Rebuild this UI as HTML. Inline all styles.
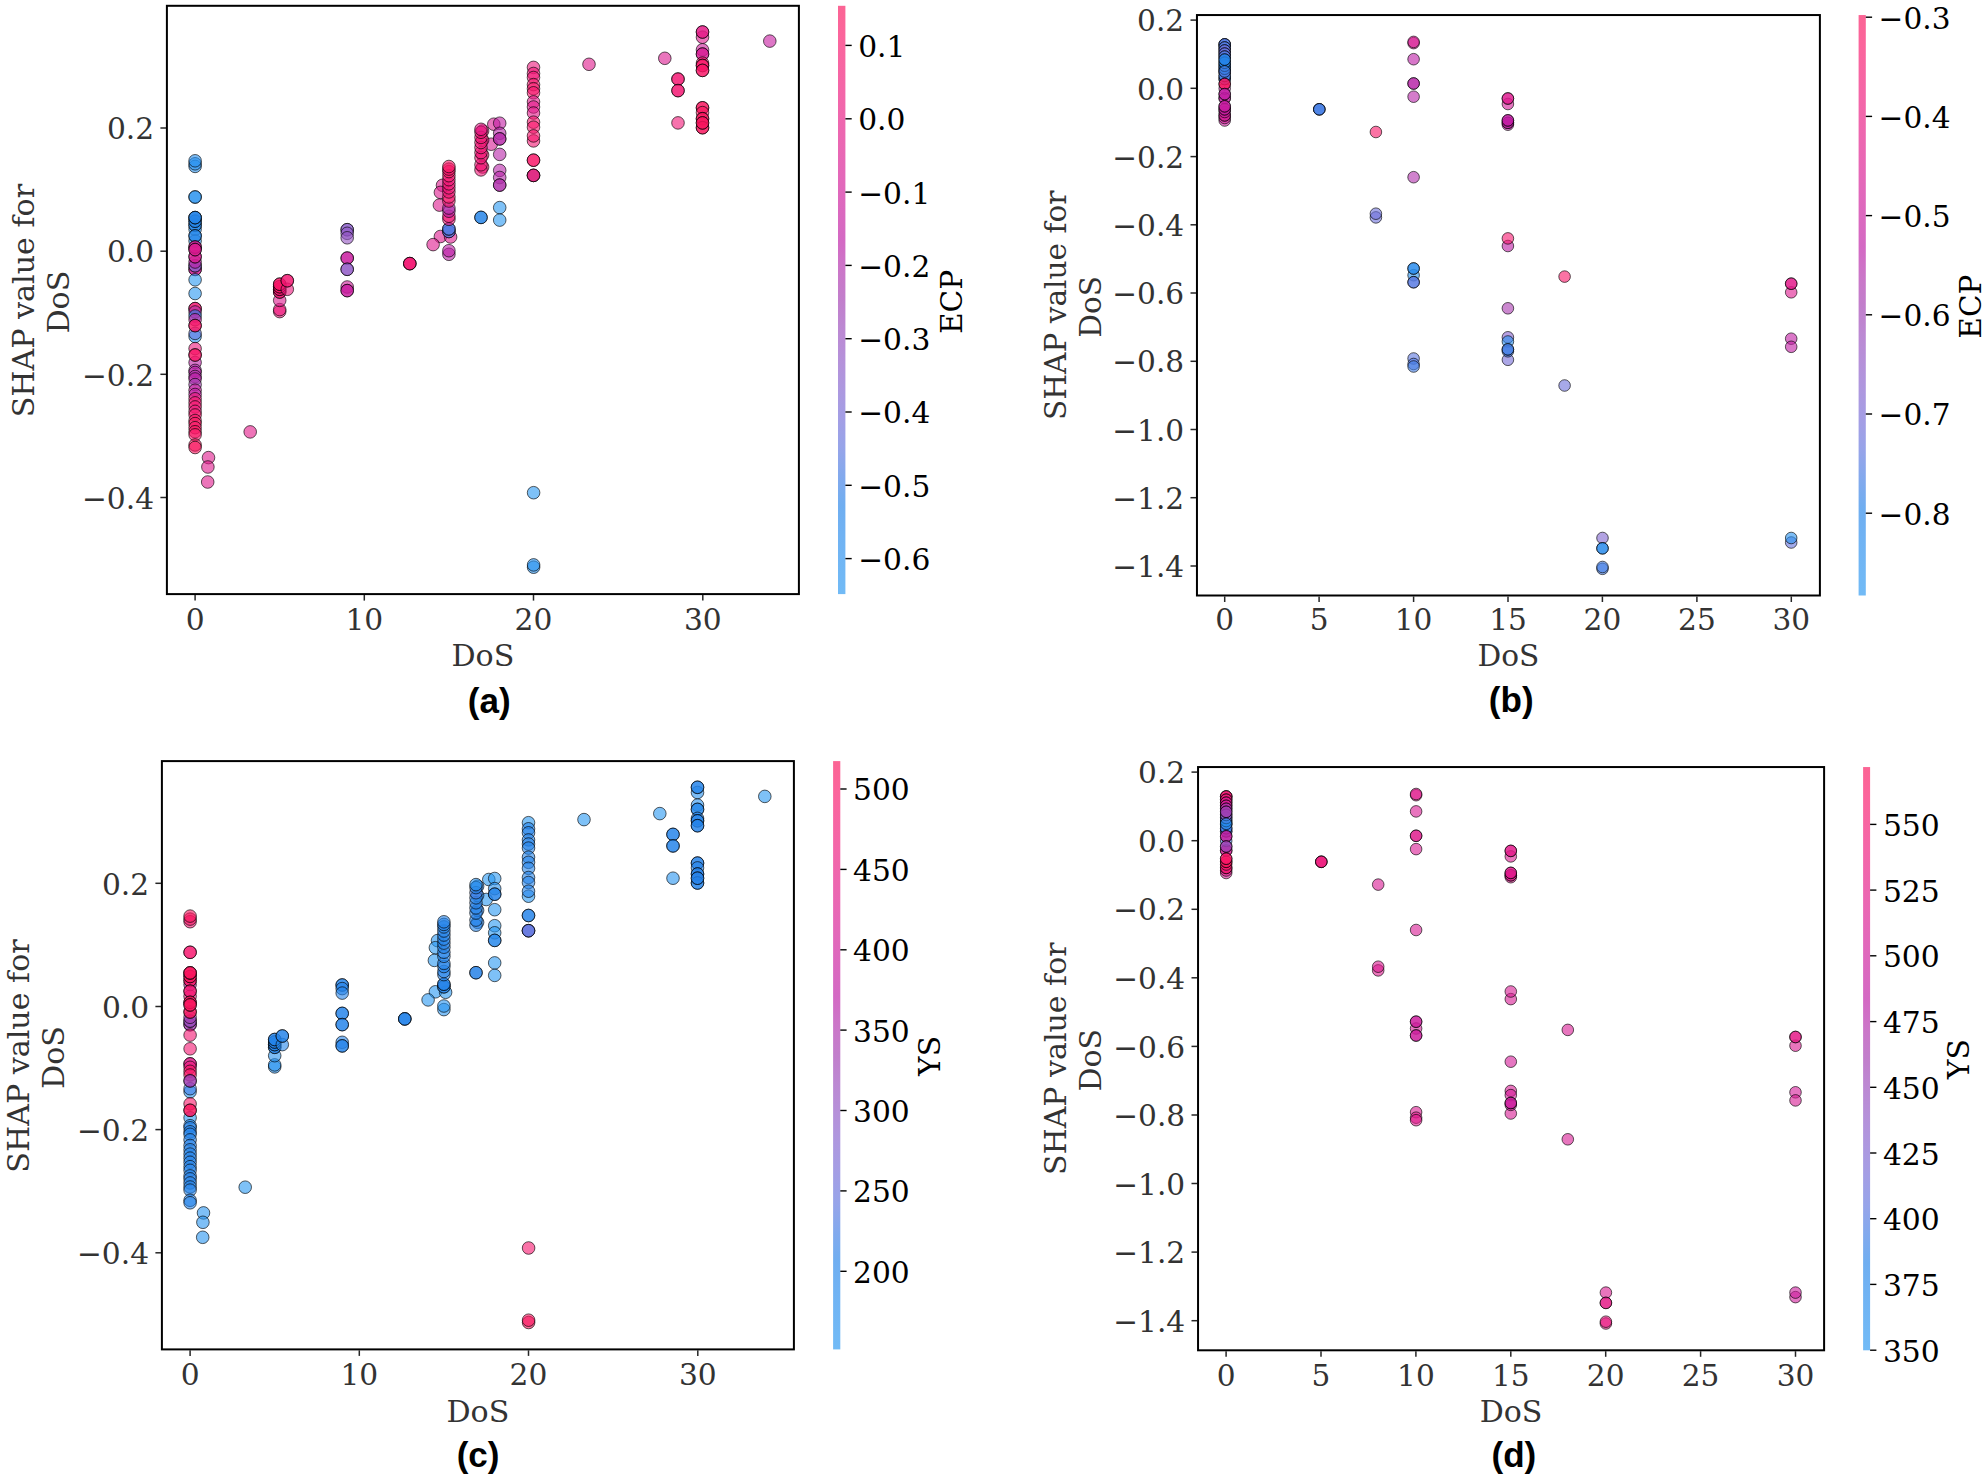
<!DOCTYPE html>
<html lang="en"><head><meta charset="utf-8"><title>SHAP dependence plots for DoS</title>
<style>html,body{margin:0;padding:0;background:#fff}svg{display:block}</style></head><body>
<svg width="1988" height="1479" viewBox="0 0 1988 1479">
<rect width="1988" height="1479" fill="#fff"/>
<defs><linearGradient id="cbgrad" x1="0" y1="0" x2="0" y2="1"><stop offset="0%" stop-color="#f9145d"/><stop offset="5%" stop-color="#f91568"/><stop offset="10%" stop-color="#f31672"/><stop offset="15%" stop-color="#ed177c"/><stop offset="20%" stop-color="#e51885"/><stop offset="25%" stop-color="#dd198e"/><stop offset="30%" stop-color="#d31a97"/><stop offset="35%" stop-color="#c81b9e"/><stop offset="40%" stop-color="#bd1ca5"/><stop offset="45%" stop-color="#b030ac"/><stop offset="50%" stop-color="#a23cb1"/><stop offset="55%" stop-color="#994cbc"/><stop offset="60%" stop-color="#8f58c6"/><stop offset="65%" stop-color="#8363cf"/><stop offset="70%" stop-color="#746cd7"/><stop offset="75%" stop-color="#6175de"/><stop offset="80%" stop-color="#427de4"/><stop offset="85%" stop-color="#2584e9"/><stop offset="90%" stop-color="#268bed"/><stop offset="95%" stop-color="#2791ef"/><stop offset="100%" stop-color="#2897f1"/></linearGradient></defs>
<g opacity="1">
<g id="panel-a">
<clipPath id="clip-a"><rect x="166.9" y="5.8" width="632.00" height="588.30"/></clipPath>
<g clip-path="url(#clip-a)" stroke="#000" stroke-opacity="0.7" stroke-width="0.9" fill-opacity="0.6">
<circle cx="195.1" cy="166.4" r="6.3" fill="#2793f0"/>
<circle cx="195.1" cy="163.8" r="6.3" fill="#2790ef"/>
<circle cx="195.1" cy="160.8" r="6.3" fill="#2790ef"/>
<circle cx="195.1" cy="197.0" r="6.3" fill="#2791ef"/>
<circle cx="195.1" cy="197.0" r="6.3" fill="#2791ef"/>
<circle cx="195.1" cy="229.3" r="6.3" fill="#2897f1"/>
<circle cx="195.1" cy="225.2" r="6.3" fill="#2585ea"/>
<circle cx="195.1" cy="225.2" r="6.3" fill="#2585ea"/>
<circle cx="195.1" cy="221.2" r="6.3" fill="#2585ea"/>
<circle cx="195.1" cy="221.2" r="6.3" fill="#2585ea"/>
<circle cx="195.1" cy="217.6" r="6.3" fill="#2583e8"/>
<circle cx="195.1" cy="217.6" r="6.3" fill="#2583e8"/>
<circle cx="195.1" cy="217.6" r="6.3" fill="#2583e8"/>
<circle cx="195.1" cy="241.0" r="6.3" fill="#2791ef"/>
<circle cx="195.1" cy="235.9" r="6.3" fill="#2585ea"/>
<circle cx="195.1" cy="235.9" r="6.3" fill="#2585ea"/>
<circle cx="195.1" cy="269.4" r="6.3" fill="#d31a97"/>
<circle cx="195.1" cy="269.4" r="6.3" fill="#d31a97"/>
<circle cx="195.1" cy="265.8" r="6.3" fill="#8b5dca"/>
<circle cx="195.1" cy="265.8" r="6.3" fill="#8b5dca"/>
<circle cx="195.1" cy="262.0" r="6.3" fill="#bd1ca5"/>
<circle cx="195.1" cy="256.7" r="6.3" fill="#d71a93"/>
<circle cx="195.1" cy="256.7" r="6.3" fill="#d71a93"/>
<circle cx="195.1" cy="247.0" r="6.3" fill="#d71a93"/>
<circle cx="195.1" cy="247.0" r="6.3" fill="#d71a93"/>
<circle cx="195.1" cy="249.6" r="6.3" fill="#db1990"/>
<circle cx="195.1" cy="249.6" r="6.3" fill="#db1990"/>
<circle cx="195.1" cy="279.8" r="6.3" fill="#2897f1"/>
<circle cx="195.1" cy="293.5" r="6.3" fill="#2897f1"/>
<circle cx="195.1" cy="308.6" r="6.3" fill="#f31672"/>
<circle cx="195.1" cy="308.6" r="6.3" fill="#f31672"/>
<circle cx="195.1" cy="312.0" r="6.3" fill="#b030ac"/>
<circle cx="195.1" cy="316.0" r="6.3" fill="#2584e9"/>
<circle cx="195.1" cy="319.7" r="6.3" fill="#c81b9e"/>
<circle cx="195.1" cy="336.5" r="6.3" fill="#2897f1"/>
<circle cx="195.1" cy="333.4" r="6.3" fill="#6175de"/>
<circle cx="195.1" cy="325.6" r="6.3" fill="#f91568"/>
<circle cx="195.1" cy="325.6" r="6.3" fill="#f91568"/>
<circle cx="195.1" cy="348.6" r="6.3" fill="#ed177c"/>
<circle cx="195.1" cy="362.5" r="6.3" fill="#bd1ca5"/>
<circle cx="195.1" cy="355.0" r="6.3" fill="#f91568"/>
<circle cx="195.1" cy="355.0" r="6.3" fill="#f91568"/>
<circle cx="195.1" cy="370.4" r="6.3" fill="#b030ac"/>
<circle cx="195.1" cy="372.5" r="6.3" fill="#bd1ca5"/>
<circle cx="195.1" cy="376.5" r="6.3" fill="#b030ac"/>
<circle cx="195.1" cy="379.0" r="6.3" fill="#bd1ca5"/>
<circle cx="195.1" cy="384.6" r="6.3" fill="#a23cb1"/>
<circle cx="195.1" cy="390.2" r="6.3" fill="#cb1b9d"/>
<circle cx="195.1" cy="394.5" r="6.3" fill="#bd1ca5"/>
<circle cx="195.1" cy="398.8" r="6.3" fill="#ed177c"/>
<circle cx="195.1" cy="402.9" r="6.3" fill="#f31672"/>
<circle cx="195.1" cy="407.0" r="6.3" fill="#f31672"/>
<circle cx="195.1" cy="411.4" r="6.3" fill="#ed177c"/>
<circle cx="195.1" cy="415.0" r="6.3" fill="#f91568"/>
<circle cx="195.1" cy="420.6" r="6.3" fill="#f91568"/>
<circle cx="195.1" cy="423.6" r="6.3" fill="#f9145d"/>
<circle cx="195.1" cy="427.7" r="6.3" fill="#f91568"/>
<circle cx="195.1" cy="431.7" r="6.3" fill="#f9145d"/>
<circle cx="195.1" cy="434.8" r="6.3" fill="#f91568"/>
<circle cx="195.1" cy="445.0" r="6.3" fill="#f9145d"/>
<circle cx="195.1" cy="447.5" r="6.3" fill="#f9145d"/>
<circle cx="250.2" cy="431.9" r="6.3" fill="#e21889"/>
<circle cx="208.5" cy="457.6" r="6.3" fill="#df198c"/>
<circle cx="207.9" cy="467.0" r="6.3" fill="#df198c"/>
<circle cx="207.7" cy="482.0" r="6.3" fill="#df198c"/>
<circle cx="279.7" cy="311.6" r="6.3" fill="#ed177c"/>
<circle cx="279.7" cy="309.6" r="6.3" fill="#ed177c"/>
<circle cx="279.7" cy="300.4" r="6.3" fill="#dd198e"/>
<circle cx="279.7" cy="292.0" r="6.3" fill="#f31672"/>
<circle cx="279.7" cy="292.0" r="6.3" fill="#f31672"/>
<circle cx="279.7" cy="289.3" r="6.3" fill="#f31672"/>
<circle cx="279.7" cy="289.3" r="6.3" fill="#f31672"/>
<circle cx="279.7" cy="286.7" r="6.3" fill="#f91568"/>
<circle cx="279.7" cy="286.7" r="6.3" fill="#f91568"/>
<circle cx="279.7" cy="284.2" r="6.3" fill="#f91568"/>
<circle cx="279.7" cy="284.2" r="6.3" fill="#f91568"/>
<circle cx="287.3" cy="289.3" r="6.3" fill="#ed177c"/>
<circle cx="287.3" cy="280.7" r="6.3" fill="#f31672"/>
<circle cx="287.3" cy="280.7" r="6.3" fill="#f31672"/>
<circle cx="347.2" cy="229.7" r="6.3" fill="#8b5dca"/>
<circle cx="347.2" cy="229.7" r="6.3" fill="#8b5dca"/>
<circle cx="347.2" cy="233.3" r="6.3" fill="#8f58c6"/>
<circle cx="347.2" cy="237.8" r="6.3" fill="#9354c2"/>
<circle cx="347.2" cy="258.1" r="6.3" fill="#c81b9e"/>
<circle cx="347.2" cy="258.1" r="6.3" fill="#c81b9e"/>
<circle cx="347.2" cy="269.3" r="6.3" fill="#8f58c6"/>
<circle cx="347.2" cy="269.3" r="6.3" fill="#8f58c6"/>
<circle cx="347.2" cy="287.0" r="6.3" fill="#cf1a9a"/>
<circle cx="347.2" cy="290.6" r="6.3" fill="#c81b9e"/>
<circle cx="347.2" cy="290.6" r="6.3" fill="#c81b9e"/>
<circle cx="409.8" cy="263.6" r="6.3" fill="#f31672"/>
<circle cx="409.8" cy="263.6" r="6.3" fill="#f31672"/>
<circle cx="409.8" cy="263.6" r="6.3" fill="#f31672"/>
<circle cx="442.5" cy="185.3" r="6.3" fill="#dd198e"/>
<circle cx="440.4" cy="192.4" r="6.3" fill="#dd198e"/>
<circle cx="439.4" cy="205.1" r="6.3" fill="#dd198e"/>
<circle cx="440.4" cy="236.5" r="6.3" fill="#dd198e"/>
<circle cx="433.1" cy="244.6" r="6.3" fill="#dd198e"/>
<circle cx="450.6" cy="237.0" r="6.3" fill="#dd198e"/>
<circle cx="448.9" cy="254.3" r="6.3" fill="#bd1ca5"/>
<circle cx="448.9" cy="250.7" r="6.3" fill="#bd1ca5"/>
<circle cx="448.9" cy="231.5" r="6.3" fill="#5c76e0"/>
<circle cx="448.9" cy="231.5" r="6.3" fill="#5c76e0"/>
<circle cx="448.9" cy="228.9" r="6.3" fill="#517ae2"/>
<circle cx="448.9" cy="228.9" r="6.3" fill="#517ae2"/>
<circle cx="448.9" cy="219.3" r="6.3" fill="#f11676"/>
<circle cx="448.9" cy="216.2" r="6.3" fill="#f11676"/>
<circle cx="448.9" cy="211.2" r="6.3" fill="#bd1ca5"/>
<circle cx="448.9" cy="208.1" r="6.3" fill="#b030ac"/>
<circle cx="448.9" cy="201.0" r="6.3" fill="#f6166e"/>
<circle cx="448.9" cy="197.0" r="6.3" fill="#f6166e"/>
<circle cx="448.9" cy="191.9" r="6.3" fill="#f11676"/>
<circle cx="448.9" cy="187.8" r="6.3" fill="#f11676"/>
<circle cx="448.9" cy="183.8" r="6.3" fill="#f11676"/>
<circle cx="448.9" cy="179.7" r="6.3" fill="#f11676"/>
<circle cx="448.9" cy="175.7" r="6.3" fill="#f6166e"/>
<circle cx="448.9" cy="171.6" r="6.3" fill="#f91563"/>
<circle cx="448.9" cy="169.1" r="6.3" fill="#f6166e"/>
<circle cx="448.9" cy="166.5" r="6.3" fill="#f91563"/>
<circle cx="491.2" cy="144.2" r="6.3" fill="#d71a93"/>
<circle cx="493.8" cy="124.2" r="6.3" fill="#d71a93"/>
<circle cx="482.6" cy="167.0" r="6.3" fill="#f31672"/>
<circle cx="482.6" cy="155.0" r="6.3" fill="#f31672"/>
<circle cx="482.6" cy="140.0" r="6.3" fill="#f31672"/>
<circle cx="482.6" cy="131.0" r="6.3" fill="#ed177c"/>
<circle cx="481.0" cy="169.9" r="6.3" fill="#f11676"/>
<circle cx="481.0" cy="164.8" r="6.3" fill="#f11676"/>
<circle cx="481.0" cy="157.7" r="6.3" fill="#f11676"/>
<circle cx="481.0" cy="152.6" r="6.3" fill="#f11676"/>
<circle cx="481.0" cy="147.5" r="6.3" fill="#f11676"/>
<circle cx="481.0" cy="142.5" r="6.3" fill="#f11676"/>
<circle cx="481.0" cy="137.4" r="6.3" fill="#f11676"/>
<circle cx="481.0" cy="132.3" r="6.3" fill="#f11676"/>
<circle cx="481.0" cy="129.3" r="6.3" fill="#e51885"/>
<circle cx="481.0" cy="217.4" r="6.3" fill="#2583e8"/>
<circle cx="481.0" cy="217.4" r="6.3" fill="#2583e8"/>
<circle cx="499.7" cy="123.2" r="6.3" fill="#c21ca3"/>
<circle cx="499.7" cy="133.3" r="6.3" fill="#b824a8"/>
<circle cx="499.7" cy="138.9" r="6.3" fill="#b529a9"/>
<circle cx="499.7" cy="138.9" r="6.3" fill="#b529a9"/>
<circle cx="499.7" cy="154.4" r="6.3" fill="#b824a8"/>
<circle cx="499.7" cy="170.4" r="6.3" fill="#b824a8"/>
<circle cx="499.7" cy="177.5" r="6.3" fill="#b824a8"/>
<circle cx="499.7" cy="185.1" r="6.3" fill="#b030ac"/>
<circle cx="499.7" cy="185.1" r="6.3" fill="#b030ac"/>
<circle cx="499.7" cy="207.6" r="6.3" fill="#2897f1"/>
<circle cx="499.7" cy="220.1" r="6.3" fill="#2897f1"/>
<circle cx="533.5" cy="67.4" r="6.3" fill="#ed177c"/>
<circle cx="533.5" cy="73.5" r="6.3" fill="#f11676"/>
<circle cx="533.5" cy="77.5" r="6.3" fill="#f11676"/>
<circle cx="533.5" cy="84.6" r="6.3" fill="#f7156c"/>
<circle cx="533.5" cy="88.7" r="6.3" fill="#f7156c"/>
<circle cx="533.5" cy="92.8" r="6.3" fill="#f7156c"/>
<circle cx="533.5" cy="101.9" r="6.3" fill="#e21889"/>
<circle cx="533.5" cy="107.0" r="6.3" fill="#e21889"/>
<circle cx="533.5" cy="113.0" r="6.3" fill="#e21889"/>
<circle cx="533.5" cy="140.9" r="6.3" fill="#f31672"/>
<circle cx="533.5" cy="122.2" r="6.3" fill="#f7156c"/>
<circle cx="533.5" cy="127.2" r="6.3" fill="#f7156c"/>
<circle cx="533.5" cy="135.9" r="6.3" fill="#f7156c"/>
<circle cx="533.5" cy="160.2" r="6.3" fill="#f91568"/>
<circle cx="533.5" cy="160.2" r="6.3" fill="#f91568"/>
<circle cx="533.5" cy="175.4" r="6.3" fill="#2584e9"/>
<circle cx="533.5" cy="175.4" r="6.3" fill="#f31672"/>
<circle cx="533.5" cy="175.4" r="6.3" fill="#f31672"/>
<circle cx="533.6" cy="492.7" r="6.3" fill="#2897f1"/>
<circle cx="533.6" cy="567.2" r="6.3" fill="#2791ef"/>
<circle cx="533.6" cy="564.9" r="6.3" fill="#2791ef"/>
<circle cx="589.0" cy="64.3" r="6.3" fill="#df198c"/>
<circle cx="664.8" cy="58.3" r="6.3" fill="#db1990"/>
<circle cx="678.0" cy="79.1" r="6.3" fill="#f31672"/>
<circle cx="678.0" cy="79.1" r="6.3" fill="#f31672"/>
<circle cx="678.0" cy="90.6" r="6.3" fill="#f31672"/>
<circle cx="678.0" cy="90.6" r="6.3" fill="#f31672"/>
<circle cx="678.0" cy="122.9" r="6.3" fill="#f11676"/>
<circle cx="702.5" cy="37.2" r="6.3" fill="#dd198e"/>
<circle cx="702.5" cy="32.0" r="6.3" fill="#e51885"/>
<circle cx="702.5" cy="32.0" r="6.3" fill="#e51885"/>
<circle cx="702.5" cy="49.8" r="6.3" fill="#cf1a9a"/>
<circle cx="702.5" cy="54.1" r="6.3" fill="#d71a93"/>
<circle cx="702.5" cy="54.1" r="6.3" fill="#d71a93"/>
<circle cx="702.5" cy="63.1" r="6.3" fill="#f91568"/>
<circle cx="702.5" cy="65.5" r="6.3" fill="#f91568"/>
<circle cx="702.5" cy="65.5" r="6.3" fill="#f91568"/>
<circle cx="702.5" cy="70.4" r="6.3" fill="#f91568"/>
<circle cx="702.5" cy="70.4" r="6.3" fill="#f91568"/>
<circle cx="702.5" cy="107.8" r="6.3" fill="#f9145d"/>
<circle cx="702.5" cy="107.8" r="6.3" fill="#f9145d"/>
<circle cx="702.5" cy="112.6" r="6.3" fill="#f9145d"/>
<circle cx="702.5" cy="118.7" r="6.3" fill="#f9145d"/>
<circle cx="702.5" cy="118.7" r="6.3" fill="#f9145d"/>
<circle cx="702.5" cy="127.7" r="6.3" fill="#f9145d"/>
<circle cx="702.5" cy="127.7" r="6.3" fill="#f9145d"/>
<circle cx="702.5" cy="122.9" r="6.3" fill="#f9145d"/>
<circle cx="702.5" cy="122.9" r="6.3" fill="#f9145d"/>
<circle cx="769.8" cy="41.1" r="6.3" fill="#c61ba0"/>
</g>
<rect x="166.9" y="5.8" width="632.00" height="588.30" fill="none" stroke="#000" stroke-width="2.0"/>
<g stroke="#262626" stroke-width="1.5" fill="none">
<line x1="195.1" y1="595.0" x2="195.1" y2="600.6"/>
<line x1="364.3" y1="595.0" x2="364.3" y2="600.6"/>
<line x1="533.5" y1="595.0" x2="533.5" y2="600.6"/>
<line x1="702.8" y1="595.0" x2="702.8" y2="600.6"/>
<line x1="166.0" y1="128.0" x2="160.4" y2="128.0"/>
<line x1="166.0" y1="251.2" x2="160.4" y2="251.2"/>
<line x1="166.0" y1="374.3" x2="160.4" y2="374.3"/>
<line x1="166.0" y1="497.5" x2="160.4" y2="497.5"/>
</g>
<g font-family='"DejaVu Serif","Liberation Serif",serif' font-size="29.7" fill="#333">
<text x="195.1" y="629.7" text-anchor="middle">0</text>
<text x="364.3" y="629.7" text-anchor="middle">10</text>
<text x="533.5" y="629.7" text-anchor="middle">20</text>
<text x="702.8" y="629.7" text-anchor="middle">30</text>
<text x="154.1" y="139.2" text-anchor="end">0.2</text>
<text x="154.1" y="262.4" text-anchor="end">0.0</text>
<text x="154.1" y="385.5" text-anchor="end">−0.2</text>
<text x="154.1" y="508.7" text-anchor="end">−0.4</text>
<text x="482.9" y="666.4" text-anchor="middle" font-size="30.1">DoS</text>
<text transform="translate(33.8,300.6) rotate(-90)" text-anchor="middle" font-size="30.1">SHAP value for</text>
<text transform="translate(68.8,302.1) rotate(-90)" text-anchor="middle" font-size="30.1">DoS</text>
</g>
<rect x="838.0" y="5.8" width="7.4" height="588.30" fill="url(#cbgrad)" fill-opacity="0.66"/>
<g stroke="#000" stroke-width="1.4">
<line x1="845.4" y1="45.4" x2="851.7" y2="45.4"/>
<line x1="845.4" y1="118.8" x2="851.7" y2="118.8"/>
<line x1="845.4" y1="192.1" x2="851.7" y2="192.1"/>
<line x1="845.4" y1="265.4" x2="851.7" y2="265.4"/>
<line x1="845.4" y1="338.7" x2="851.7" y2="338.7"/>
<line x1="845.4" y1="412.0" x2="851.7" y2="412.0"/>
<line x1="845.4" y1="485.3" x2="851.7" y2="485.3"/>
<line x1="845.4" y1="558.6" x2="851.7" y2="558.6"/>
</g>
<g font-family='"DejaVu Serif","Liberation Serif",serif' font-size="29.7" fill="#000">
<text x="858.2" y="56.8">0.1</text>
<text x="858.2" y="130.2">0.0</text>
<text x="858.2" y="203.5">−0.1</text>
<text x="858.2" y="276.8">−0.2</text>
<text x="858.2" y="350.1">−0.3</text>
<text x="858.2" y="423.4">−0.4</text>
<text x="858.2" y="496.7">−0.5</text>
<text x="858.2" y="570.0">−0.6</text>
<text transform="translate(962.2,301.9) rotate(-90)" text-anchor="middle">ECP</text>
</g>
<text x="489.3" y="712.6" text-anchor="middle" font-family='"Liberation Sans","DejaVu Sans",sans-serif' font-weight="bold" font-size="35.1" fill="#000">(a)</text>
</g>
<g id="panel-b">
<clipPath id="clip-b"><rect x="1196.95" y="15.05" width="622.95" height="580.45"/></clipPath>
<g clip-path="url(#clip-b)" stroke="#000" stroke-opacity="0.7" stroke-width="0.9" fill-opacity="0.6">
<circle cx="1224.7" cy="120.5" r="5.8" fill="#cb1b9d"/>
<circle cx="1224.7" cy="118.0" r="5.8" fill="#d31a97"/>
<circle cx="1224.7" cy="115.4" r="5.8" fill="#d31a97"/>
<circle cx="1224.7" cy="115.4" r="5.8" fill="#d31a97"/>
<circle cx="1224.7" cy="112.0" r="5.8" fill="#cb1b9d"/>
<circle cx="1224.7" cy="98.2" r="5.8" fill="#c21ca3"/>
<circle cx="1224.7" cy="98.2" r="5.8" fill="#c21ca3"/>
<circle cx="1224.7" cy="88.5" r="5.8" fill="#bd1ca5"/>
<circle cx="1224.7" cy="79.0" r="5.8" fill="#427de4"/>
<circle cx="1224.7" cy="79.0" r="5.8" fill="#427de4"/>
<circle cx="1224.7" cy="71.8" r="5.8" fill="#a23cb1"/>
<circle cx="1224.7" cy="71.8" r="5.8" fill="#a23cb1"/>
<circle cx="1224.7" cy="75.9" r="5.8" fill="#427de4"/>
<circle cx="1224.7" cy="75.9" r="5.8" fill="#427de4"/>
<circle cx="1224.7" cy="68.7" r="5.8" fill="#2581e7"/>
<circle cx="1224.7" cy="68.7" r="5.8" fill="#2581e7"/>
<circle cx="1224.7" cy="44.4" r="5.8" fill="#517ae2"/>
<circle cx="1224.7" cy="44.4" r="5.8" fill="#517ae2"/>
<circle cx="1224.7" cy="44.4" r="5.8" fill="#517ae2"/>
<circle cx="1224.7" cy="47.5" r="5.8" fill="#517ae2"/>
<circle cx="1224.7" cy="47.5" r="5.8" fill="#517ae2"/>
<circle cx="1224.7" cy="50.5" r="5.8" fill="#6972dc"/>
<circle cx="1224.7" cy="50.5" r="5.8" fill="#6972dc"/>
<circle cx="1224.7" cy="53.6" r="5.8" fill="#6972dc"/>
<circle cx="1224.7" cy="53.6" r="5.8" fill="#6972dc"/>
<circle cx="1224.7" cy="56.6" r="5.8" fill="#517ae2"/>
<circle cx="1224.7" cy="56.6" r="5.8" fill="#517ae2"/>
<circle cx="1224.7" cy="65.7" r="5.8" fill="#2480e6"/>
<circle cx="1224.7" cy="65.7" r="5.8" fill="#2480e6"/>
<circle cx="1224.7" cy="62.7" r="5.8" fill="#2584e9"/>
<circle cx="1224.7" cy="62.7" r="5.8" fill="#2584e9"/>
<circle cx="1224.7" cy="59.6" r="5.8" fill="#2584e9"/>
<circle cx="1224.7" cy="59.6" r="5.8" fill="#2584e9"/>
<circle cx="1224.7" cy="71.5" r="5.8" fill="#427de4"/>
<circle cx="1224.7" cy="84.0" r="5.8" fill="#f9145d"/>
<circle cx="1224.7" cy="84.0" r="5.8" fill="#f9145d"/>
<circle cx="1224.7" cy="94.1" r="5.8" fill="#c21ca3"/>
<circle cx="1224.7" cy="94.1" r="5.8" fill="#c21ca3"/>
<circle cx="1224.7" cy="109.3" r="5.8" fill="#c61ba0"/>
<circle cx="1224.7" cy="109.3" r="5.8" fill="#c61ba0"/>
<circle cx="1224.7" cy="106.3" r="5.8" fill="#c61ba0"/>
<circle cx="1224.7" cy="106.3" r="5.8" fill="#c61ba0"/>
<circle cx="1319.3" cy="109.3" r="5.8" fill="#427de4"/>
<circle cx="1319.3" cy="109.3" r="5.8" fill="#427de4"/>
<circle cx="1319.3" cy="109.3" r="5.8" fill="#427de4"/>
<circle cx="1375.9" cy="132.0" r="5.8" fill="#f91568"/>
<circle cx="1375.9" cy="217.4" r="5.8" fill="#6d70da"/>
<circle cx="1375.9" cy="213.7" r="5.8" fill="#6d70da"/>
<circle cx="1413.6" cy="43.1" r="5.8" fill="#d71a93"/>
<circle cx="1413.6" cy="41.9" r="5.8" fill="#d71a93"/>
<circle cx="1413.6" cy="59.2" r="5.8" fill="#bd1ca5"/>
<circle cx="1413.6" cy="83.5" r="5.8" fill="#b824a8"/>
<circle cx="1413.6" cy="83.5" r="5.8" fill="#b824a8"/>
<circle cx="1413.6" cy="96.7" r="5.8" fill="#b824a8"/>
<circle cx="1413.6" cy="177.2" r="5.8" fill="#b030ac"/>
<circle cx="1413.6" cy="275.2" r="5.8" fill="#2793f0"/>
<circle cx="1413.6" cy="268.5" r="5.8" fill="#268bed"/>
<circle cx="1413.6" cy="268.5" r="5.8" fill="#268bed"/>
<circle cx="1413.6" cy="282.2" r="5.8" fill="#5778e1"/>
<circle cx="1413.6" cy="282.2" r="5.8" fill="#5778e1"/>
<circle cx="1413.6" cy="358.5" r="5.8" fill="#5c76e0"/>
<circle cx="1413.6" cy="364.0" r="5.8" fill="#517ae2"/>
<circle cx="1413.6" cy="366.5" r="5.8" fill="#427de4"/>
<circle cx="1507.9" cy="104.0" r="5.8" fill="#d31a97"/>
<circle cx="1507.9" cy="98.5" r="5.8" fill="#dd198e"/>
<circle cx="1507.9" cy="98.5" r="5.8" fill="#dd198e"/>
<circle cx="1507.9" cy="124.7" r="5.8" fill="#bd1ca5"/>
<circle cx="1507.9" cy="122.8" r="5.8" fill="#c21ca3"/>
<circle cx="1507.9" cy="122.8" r="5.8" fill="#c21ca3"/>
<circle cx="1507.9" cy="120.4" r="5.8" fill="#c21ca3"/>
<circle cx="1507.9" cy="120.4" r="5.8" fill="#c21ca3"/>
<circle cx="1507.9" cy="246.0" r="5.8" fill="#bd1ca5"/>
<circle cx="1507.9" cy="238.4" r="5.8" fill="#f6166e"/>
<circle cx="1507.9" cy="308.3" r="5.8" fill="#a838af"/>
<circle cx="1507.9" cy="337.3" r="5.8" fill="#8661ce"/>
<circle cx="1507.9" cy="359.8" r="5.8" fill="#746cd7"/>
<circle cx="1507.9" cy="341.5" r="5.8" fill="#268dee"/>
<circle cx="1507.9" cy="351.3" r="5.8" fill="#427de4"/>
<circle cx="1507.9" cy="349.4" r="5.8" fill="#427de4"/>
<circle cx="1507.9" cy="349.4" r="5.8" fill="#427de4"/>
<circle cx="1564.6" cy="276.6" r="5.8" fill="#f91568"/>
<circle cx="1564.6" cy="385.5" r="5.8" fill="#6d70da"/>
<circle cx="1602.5" cy="538.0" r="5.8" fill="#8065d1"/>
<circle cx="1602.5" cy="548.3" r="5.8" fill="#2688eb"/>
<circle cx="1602.5" cy="548.3" r="5.8" fill="#2688eb"/>
<circle cx="1602.5" cy="568.8" r="5.8" fill="#427de4"/>
<circle cx="1602.5" cy="567.0" r="5.8" fill="#427de4"/>
<circle cx="1791.2" cy="292.3" r="5.8" fill="#dd198e"/>
<circle cx="1791.2" cy="283.7" r="5.8" fill="#e21889"/>
<circle cx="1791.2" cy="283.7" r="5.8" fill="#e21889"/>
<circle cx="1791.2" cy="338.7" r="5.8" fill="#c21ca3"/>
<circle cx="1791.2" cy="346.8" r="5.8" fill="#c21ca3"/>
<circle cx="1791.2" cy="542.5" r="5.8" fill="#6573dd"/>
<circle cx="1791.2" cy="538.0" r="5.8" fill="#2791ef"/>
</g>
<rect x="1196.95" y="15.05" width="622.95" height="580.45" fill="none" stroke="#000" stroke-width="2.0"/>
<g stroke="#262626" stroke-width="1.5" fill="none">
<line x1="1224.7" y1="596.4" x2="1224.7" y2="602.0"/>
<line x1="1319.1" y1="596.4" x2="1319.1" y2="602.0"/>
<line x1="1413.6" y1="596.4" x2="1413.6" y2="602.0"/>
<line x1="1508.0" y1="596.4" x2="1508.0" y2="602.0"/>
<line x1="1602.4" y1="596.4" x2="1602.4" y2="602.0"/>
<line x1="1696.9" y1="596.4" x2="1696.9" y2="602.0"/>
<line x1="1791.3" y1="596.4" x2="1791.3" y2="602.0"/>
<line x1="1196.0" y1="20.1" x2="1190.5" y2="20.1"/>
<line x1="1196.0" y1="88.3" x2="1190.5" y2="88.3"/>
<line x1="1196.0" y1="156.6" x2="1190.5" y2="156.6"/>
<line x1="1196.0" y1="224.8" x2="1190.5" y2="224.8"/>
<line x1="1196.0" y1="293.0" x2="1190.5" y2="293.0"/>
<line x1="1196.0" y1="361.3" x2="1190.5" y2="361.3"/>
<line x1="1196.0" y1="429.5" x2="1190.5" y2="429.5"/>
<line x1="1196.0" y1="497.7" x2="1190.5" y2="497.7"/>
<line x1="1196.0" y1="566.0" x2="1190.5" y2="566.0"/>
</g>
<g font-family='"DejaVu Serif","Liberation Serif",serif' font-size="29.6" fill="#333">
<text x="1224.7" y="630.1" text-anchor="middle">0</text>
<text x="1319.1" y="630.1" text-anchor="middle">5</text>
<text x="1413.6" y="630.1" text-anchor="middle">10</text>
<text x="1508.0" y="630.1" text-anchor="middle">15</text>
<text x="1602.4" y="630.1" text-anchor="middle">20</text>
<text x="1696.9" y="630.1" text-anchor="middle">25</text>
<text x="1791.3" y="630.1" text-anchor="middle">30</text>
<text x="1184.2" y="31.3" text-anchor="end">0.2</text>
<text x="1184.2" y="99.5" text-anchor="end">0.0</text>
<text x="1184.2" y="167.8" text-anchor="end">−0.2</text>
<text x="1184.2" y="236.0" text-anchor="end">−0.4</text>
<text x="1184.2" y="304.2" text-anchor="end">−0.6</text>
<text x="1184.2" y="372.4" text-anchor="end">−0.8</text>
<text x="1184.2" y="440.7" text-anchor="end">−1.0</text>
<text x="1184.2" y="508.9" text-anchor="end">−1.2</text>
<text x="1184.2" y="577.1" text-anchor="end">−1.4</text>
<text x="1508.4" y="665.9" text-anchor="middle" font-size="29.6">DoS</text>
<text transform="translate(1066.0,305.3) rotate(-90)" text-anchor="middle" font-size="29.6">SHAP value for</text>
<text transform="translate(1101.0,306.8) rotate(-90)" text-anchor="middle" font-size="29.6">DoS</text>
</g>
<rect x="1858.6" y="15.05" width="7.2" height="580.45" fill="url(#cbgrad)" fill-opacity="0.66"/>
<g stroke="#000" stroke-width="1.4">
<line x1="1865.8" y1="17.2" x2="1872.1" y2="17.2"/>
<line x1="1865.8" y1="116.4" x2="1872.1" y2="116.4"/>
<line x1="1865.8" y1="215.6" x2="1872.1" y2="215.6"/>
<line x1="1865.8" y1="314.8" x2="1872.1" y2="314.8"/>
<line x1="1865.8" y1="414.0" x2="1872.1" y2="414.0"/>
<line x1="1865.8" y1="513.2" x2="1872.1" y2="513.2"/>
</g>
<g font-family='"DejaVu Serif","Liberation Serif",serif' font-size="29.6" fill="#000">
<text x="1878.6" y="28.6">−0.3</text>
<text x="1878.6" y="127.8">−0.4</text>
<text x="1878.6" y="227.0">−0.5</text>
<text x="1878.6" y="326.2">−0.6</text>
<text x="1878.6" y="425.4">−0.7</text>
<text x="1878.6" y="524.6">−0.8</text>
<text transform="translate(1980.7,306.6) rotate(-90)" text-anchor="middle">ECP</text>
</g>
<text x="1511.2" y="712.3" text-anchor="middle" font-family='"Liberation Sans","DejaVu Sans",sans-serif' font-weight="bold" font-size="35.1" fill="#000">(b)</text>
</g>
<g id="panel-c">
<clipPath id="clip-c"><rect x="161.9" y="761.1" width="632.00" height="588.30"/></clipPath>
<g clip-path="url(#clip-c)" stroke="#000" stroke-opacity="0.7" stroke-width="0.9" fill-opacity="0.6">
<circle cx="190.1" cy="921.7" r="6.3" fill="#f31672"/>
<circle cx="190.1" cy="919.1" r="6.3" fill="#f91568"/>
<circle cx="190.1" cy="916.1" r="6.3" fill="#f9145d"/>
<circle cx="190.1" cy="952.3" r="6.3" fill="#f6166e"/>
<circle cx="190.1" cy="952.3" r="6.3" fill="#f6166e"/>
<circle cx="190.1" cy="984.6" r="6.3" fill="#bd1ca5"/>
<circle cx="190.1" cy="980.5" r="6.3" fill="#f91568"/>
<circle cx="190.1" cy="980.5" r="6.3" fill="#f91568"/>
<circle cx="190.1" cy="976.5" r="6.3" fill="#f9145d"/>
<circle cx="190.1" cy="976.5" r="6.3" fill="#f9145d"/>
<circle cx="190.1" cy="972.9" r="6.3" fill="#f9145d"/>
<circle cx="190.1" cy="972.9" r="6.3" fill="#f9145d"/>
<circle cx="190.1" cy="972.9" r="6.3" fill="#f9145d"/>
<circle cx="190.1" cy="996.3" r="6.3" fill="#ed177c"/>
<circle cx="190.1" cy="991.2" r="6.3" fill="#f31672"/>
<circle cx="190.1" cy="991.2" r="6.3" fill="#f31672"/>
<circle cx="190.1" cy="1024.7" r="6.3" fill="#a23cb1"/>
<circle cx="190.1" cy="1024.7" r="6.3" fill="#a23cb1"/>
<circle cx="190.1" cy="1021.1" r="6.3" fill="#994cbc"/>
<circle cx="190.1" cy="1021.1" r="6.3" fill="#994cbc"/>
<circle cx="190.1" cy="1017.3" r="6.3" fill="#a23cb1"/>
<circle cx="190.1" cy="1012.0" r="6.3" fill="#f9145d"/>
<circle cx="190.1" cy="1012.0" r="6.3" fill="#f9145d"/>
<circle cx="190.1" cy="1002.3" r="6.3" fill="#f9145d"/>
<circle cx="190.1" cy="1002.3" r="6.3" fill="#f9145d"/>
<circle cx="190.1" cy="1004.9" r="6.3" fill="#f9145d"/>
<circle cx="190.1" cy="1004.9" r="6.3" fill="#f9145d"/>
<circle cx="190.1" cy="1035.1" r="6.3" fill="#f31672"/>
<circle cx="190.1" cy="1048.8" r="6.3" fill="#f31672"/>
<circle cx="190.1" cy="1063.9" r="6.3" fill="#e21889"/>
<circle cx="190.1" cy="1063.9" r="6.3" fill="#e21889"/>
<circle cx="190.1" cy="1067.3" r="6.3" fill="#ed177c"/>
<circle cx="190.1" cy="1071.3" r="6.3" fill="#f91568"/>
<circle cx="190.1" cy="1075.0" r="6.3" fill="#f91568"/>
<circle cx="190.1" cy="1091.8" r="6.3" fill="#2897f1"/>
<circle cx="190.1" cy="1088.7" r="6.3" fill="#427de4"/>
<circle cx="190.1" cy="1080.9" r="6.3" fill="#a23cb1"/>
<circle cx="190.1" cy="1080.9" r="6.3" fill="#a23cb1"/>
<circle cx="190.1" cy="1103.9" r="6.3" fill="#f91568"/>
<circle cx="190.1" cy="1117.8" r="6.3" fill="#2897f1"/>
<circle cx="190.1" cy="1110.3" r="6.3" fill="#f9145d"/>
<circle cx="190.1" cy="1110.3" r="6.3" fill="#f9145d"/>
<circle cx="190.1" cy="1125.7" r="6.3" fill="#2584e9"/>
<circle cx="190.1" cy="1127.8" r="6.3" fill="#2584e9"/>
<circle cx="190.1" cy="1131.8" r="6.3" fill="#2584e9"/>
<circle cx="190.1" cy="1134.3" r="6.3" fill="#2584e9"/>
<circle cx="190.1" cy="1139.9" r="6.3" fill="#2584e9"/>
<circle cx="190.1" cy="1145.5" r="6.3" fill="#2581e7"/>
<circle cx="190.1" cy="1149.8" r="6.3" fill="#2584e9"/>
<circle cx="190.1" cy="1154.1" r="6.3" fill="#2584e9"/>
<circle cx="190.1" cy="1158.2" r="6.3" fill="#2584e9"/>
<circle cx="190.1" cy="1162.3" r="6.3" fill="#2584e9"/>
<circle cx="190.1" cy="1166.7" r="6.3" fill="#2584e9"/>
<circle cx="190.1" cy="1170.3" r="6.3" fill="#2584e9"/>
<circle cx="190.1" cy="1175.9" r="6.3" fill="#2584e9"/>
<circle cx="190.1" cy="1178.9" r="6.3" fill="#2581e7"/>
<circle cx="190.1" cy="1183.0" r="6.3" fill="#2584e9"/>
<circle cx="190.1" cy="1187.0" r="6.3" fill="#2584e9"/>
<circle cx="190.1" cy="1190.1" r="6.3" fill="#2584e9"/>
<circle cx="190.1" cy="1200.3" r="6.3" fill="#2584e9"/>
<circle cx="190.1" cy="1202.8" r="6.3" fill="#2584e9"/>
<circle cx="245.2" cy="1187.2" r="6.3" fill="#2897f1"/>
<circle cx="203.5" cy="1212.9" r="6.3" fill="#2895f0"/>
<circle cx="202.9" cy="1222.3" r="6.3" fill="#2895f0"/>
<circle cx="202.7" cy="1237.3" r="6.3" fill="#2895f0"/>
<circle cx="274.7" cy="1066.9" r="6.3" fill="#2791ef"/>
<circle cx="274.7" cy="1064.9" r="6.3" fill="#2791ef"/>
<circle cx="274.7" cy="1055.7" r="6.3" fill="#2791ef"/>
<circle cx="274.7" cy="1047.3" r="6.3" fill="#2584e9"/>
<circle cx="274.7" cy="1047.3" r="6.3" fill="#2584e9"/>
<circle cx="274.7" cy="1044.6" r="6.3" fill="#2584e9"/>
<circle cx="274.7" cy="1044.6" r="6.3" fill="#2584e9"/>
<circle cx="274.7" cy="1042.0" r="6.3" fill="#2584e9"/>
<circle cx="274.7" cy="1042.0" r="6.3" fill="#2584e9"/>
<circle cx="274.7" cy="1039.5" r="6.3" fill="#2584e9"/>
<circle cx="274.7" cy="1039.5" r="6.3" fill="#2584e9"/>
<circle cx="282.3" cy="1044.6" r="6.3" fill="#2587eb"/>
<circle cx="282.3" cy="1036.0" r="6.3" fill="#2584e9"/>
<circle cx="282.3" cy="1036.0" r="6.3" fill="#2584e9"/>
<circle cx="342.2" cy="985.0" r="6.3" fill="#2584e9"/>
<circle cx="342.2" cy="985.0" r="6.3" fill="#2584e9"/>
<circle cx="342.2" cy="988.6" r="6.3" fill="#2584e9"/>
<circle cx="342.2" cy="993.1" r="6.3" fill="#2584e9"/>
<circle cx="342.2" cy="1013.4" r="6.3" fill="#2584e9"/>
<circle cx="342.2" cy="1013.4" r="6.3" fill="#2584e9"/>
<circle cx="342.2" cy="1024.6" r="6.3" fill="#2584e9"/>
<circle cx="342.2" cy="1024.6" r="6.3" fill="#2584e9"/>
<circle cx="342.2" cy="1042.3" r="6.3" fill="#2584e9"/>
<circle cx="342.2" cy="1045.9" r="6.3" fill="#2584e9"/>
<circle cx="342.2" cy="1045.9" r="6.3" fill="#2584e9"/>
<circle cx="404.8" cy="1018.9" r="6.3" fill="#2584e9"/>
<circle cx="404.8" cy="1018.9" r="6.3" fill="#2584e9"/>
<circle cx="404.8" cy="1018.9" r="6.3" fill="#2584e9"/>
<circle cx="437.5" cy="940.6" r="6.3" fill="#2897f1"/>
<circle cx="435.4" cy="947.7" r="6.3" fill="#2897f1"/>
<circle cx="434.4" cy="960.4" r="6.3" fill="#2897f1"/>
<circle cx="435.4" cy="991.8" r="6.3" fill="#2897f1"/>
<circle cx="428.1" cy="999.9" r="6.3" fill="#2897f1"/>
<circle cx="445.6" cy="992.3" r="6.3" fill="#2897f1"/>
<circle cx="443.9" cy="1009.6" r="6.3" fill="#2895f0"/>
<circle cx="443.9" cy="1006.0" r="6.3" fill="#2895f0"/>
<circle cx="443.9" cy="986.8" r="6.3" fill="#2584e9"/>
<circle cx="443.9" cy="986.8" r="6.3" fill="#2584e9"/>
<circle cx="443.9" cy="984.2" r="6.3" fill="#2584e9"/>
<circle cx="443.9" cy="984.2" r="6.3" fill="#2584e9"/>
<circle cx="443.9" cy="974.6" r="6.3" fill="#2584e9"/>
<circle cx="443.9" cy="971.5" r="6.3" fill="#2584e9"/>
<circle cx="443.9" cy="966.5" r="6.3" fill="#2584e9"/>
<circle cx="443.9" cy="963.4" r="6.3" fill="#2584e9"/>
<circle cx="443.9" cy="956.3" r="6.3" fill="#2584e9"/>
<circle cx="443.9" cy="952.3" r="6.3" fill="#2584e9"/>
<circle cx="443.9" cy="947.2" r="6.3" fill="#2584e9"/>
<circle cx="443.9" cy="943.1" r="6.3" fill="#2584e9"/>
<circle cx="443.9" cy="939.1" r="6.3" fill="#2584e9"/>
<circle cx="443.9" cy="935.0" r="6.3" fill="#2584e9"/>
<circle cx="443.9" cy="931.0" r="6.3" fill="#2584e9"/>
<circle cx="443.9" cy="926.9" r="6.3" fill="#2584e9"/>
<circle cx="443.9" cy="924.4" r="6.3" fill="#2584e9"/>
<circle cx="443.9" cy="921.8" r="6.3" fill="#2584e9"/>
<circle cx="486.2" cy="899.5" r="6.3" fill="#2897f1"/>
<circle cx="488.8" cy="879.5" r="6.3" fill="#2897f1"/>
<circle cx="477.6" cy="922.3" r="6.3" fill="#2584e9"/>
<circle cx="477.6" cy="910.3" r="6.3" fill="#2584e9"/>
<circle cx="477.6" cy="895.3" r="6.3" fill="#2584e9"/>
<circle cx="477.6" cy="886.3" r="6.3" fill="#2584e9"/>
<circle cx="476.0" cy="925.2" r="6.3" fill="#2584e9"/>
<circle cx="476.0" cy="920.1" r="6.3" fill="#2584e9"/>
<circle cx="476.0" cy="913.0" r="6.3" fill="#2581e7"/>
<circle cx="476.0" cy="907.9" r="6.3" fill="#2584e9"/>
<circle cx="476.0" cy="902.8" r="6.3" fill="#2581e7"/>
<circle cx="476.0" cy="897.8" r="6.3" fill="#2584e9"/>
<circle cx="476.0" cy="892.7" r="6.3" fill="#427de4"/>
<circle cx="476.0" cy="887.6" r="6.3" fill="#2584e9"/>
<circle cx="476.0" cy="884.6" r="6.3" fill="#2791ef"/>
<circle cx="476.0" cy="972.7" r="6.3" fill="#2581e7"/>
<circle cx="476.0" cy="972.7" r="6.3" fill="#2581e7"/>
<circle cx="494.7" cy="878.5" r="6.3" fill="#2897f1"/>
<circle cx="494.7" cy="888.6" r="6.3" fill="#2791ef"/>
<circle cx="494.7" cy="894.2" r="6.3" fill="#2584e9"/>
<circle cx="494.7" cy="894.2" r="6.3" fill="#2584e9"/>
<circle cx="494.7" cy="909.7" r="6.3" fill="#2897f1"/>
<circle cx="494.7" cy="925.7" r="6.3" fill="#2897f1"/>
<circle cx="494.7" cy="932.8" r="6.3" fill="#2897f1"/>
<circle cx="494.7" cy="940.4" r="6.3" fill="#2587eb"/>
<circle cx="494.7" cy="940.4" r="6.3" fill="#2587eb"/>
<circle cx="494.7" cy="962.9" r="6.3" fill="#2897f1"/>
<circle cx="494.7" cy="975.4" r="6.3" fill="#2897f1"/>
<circle cx="528.5" cy="822.7" r="6.3" fill="#2897f1"/>
<circle cx="528.5" cy="828.8" r="6.3" fill="#2584e9"/>
<circle cx="528.5" cy="832.8" r="6.3" fill="#2584e9"/>
<circle cx="528.5" cy="839.9" r="6.3" fill="#2584e9"/>
<circle cx="528.5" cy="844.0" r="6.3" fill="#2584e9"/>
<circle cx="528.5" cy="848.1" r="6.3" fill="#2584e9"/>
<circle cx="528.5" cy="857.2" r="6.3" fill="#2584e9"/>
<circle cx="528.5" cy="862.3" r="6.3" fill="#2584e9"/>
<circle cx="528.5" cy="868.3" r="6.3" fill="#2584e9"/>
<circle cx="528.5" cy="896.2" r="6.3" fill="#2897f1"/>
<circle cx="528.5" cy="877.5" r="6.3" fill="#2584e9"/>
<circle cx="528.5" cy="882.5" r="6.3" fill="#2584e9"/>
<circle cx="528.5" cy="891.2" r="6.3" fill="#2584e9"/>
<circle cx="528.5" cy="915.5" r="6.3" fill="#2584e9"/>
<circle cx="528.5" cy="915.5" r="6.3" fill="#2584e9"/>
<circle cx="528.5" cy="930.7" r="6.3" fill="#6175de"/>
<circle cx="528.5" cy="930.7" r="6.3" fill="#6175de"/>
<circle cx="528.5" cy="930.7" r="6.3" fill="#6175de"/>
<circle cx="528.6" cy="1248.0" r="6.3" fill="#f6166e"/>
<circle cx="528.6" cy="1322.5" r="6.3" fill="#f9145d"/>
<circle cx="528.6" cy="1320.2" r="6.3" fill="#f9145d"/>
<circle cx="584.0" cy="819.6" r="6.3" fill="#2897f1"/>
<circle cx="659.8" cy="813.6" r="6.3" fill="#2897f1"/>
<circle cx="673.0" cy="834.4" r="6.3" fill="#2584e9"/>
<circle cx="673.0" cy="834.4" r="6.3" fill="#2584e9"/>
<circle cx="673.0" cy="845.9" r="6.3" fill="#2584e9"/>
<circle cx="673.0" cy="845.9" r="6.3" fill="#2584e9"/>
<circle cx="673.0" cy="878.2" r="6.3" fill="#2895f0"/>
<circle cx="697.5" cy="792.5" r="6.3" fill="#2791ef"/>
<circle cx="697.5" cy="787.3" r="6.3" fill="#2584e9"/>
<circle cx="697.5" cy="787.3" r="6.3" fill="#2584e9"/>
<circle cx="697.5" cy="805.1" r="6.3" fill="#2791ef"/>
<circle cx="697.5" cy="809.4" r="6.3" fill="#2587eb"/>
<circle cx="697.5" cy="809.4" r="6.3" fill="#2587eb"/>
<circle cx="697.5" cy="818.4" r="6.3" fill="#2584e9"/>
<circle cx="697.5" cy="820.8" r="6.3" fill="#2584e9"/>
<circle cx="697.5" cy="820.8" r="6.3" fill="#2584e9"/>
<circle cx="697.5" cy="825.7" r="6.3" fill="#2584e9"/>
<circle cx="697.5" cy="825.7" r="6.3" fill="#2584e9"/>
<circle cx="697.5" cy="863.1" r="6.3" fill="#2581e7"/>
<circle cx="697.5" cy="863.1" r="6.3" fill="#2581e7"/>
<circle cx="697.5" cy="867.9" r="6.3" fill="#2584e9"/>
<circle cx="697.5" cy="874.0" r="6.3" fill="#2581e7"/>
<circle cx="697.5" cy="874.0" r="6.3" fill="#2581e7"/>
<circle cx="697.5" cy="883.0" r="6.3" fill="#2584e9"/>
<circle cx="697.5" cy="883.0" r="6.3" fill="#2584e9"/>
<circle cx="697.5" cy="878.2" r="6.3" fill="#2581e7"/>
<circle cx="697.5" cy="878.2" r="6.3" fill="#2581e7"/>
<circle cx="764.8" cy="796.4" r="6.3" fill="#2897f1"/>
</g>
<rect x="161.9" y="761.1" width="632.00" height="588.30" fill="none" stroke="#000" stroke-width="2.0"/>
<g stroke="#262626" stroke-width="1.5" fill="none">
<line x1="190.1" y1="1350.3" x2="190.1" y2="1355.9"/>
<line x1="359.3" y1="1350.3" x2="359.3" y2="1355.9"/>
<line x1="528.5" y1="1350.3" x2="528.5" y2="1355.9"/>
<line x1="697.8" y1="1350.3" x2="697.8" y2="1355.9"/>
<line x1="161.0" y1="883.3" x2="155.4" y2="883.3"/>
<line x1="161.0" y1="1006.5" x2="155.4" y2="1006.5"/>
<line x1="161.0" y1="1129.6" x2="155.4" y2="1129.6"/>
<line x1="161.0" y1="1252.8" x2="155.4" y2="1252.8"/>
</g>
<g font-family='"DejaVu Serif","Liberation Serif",serif' font-size="29.7" fill="#333">
<text x="190.1" y="1385.1" text-anchor="middle">0</text>
<text x="359.3" y="1385.1" text-anchor="middle">10</text>
<text x="528.5" y="1385.1" text-anchor="middle">20</text>
<text x="697.8" y="1385.1" text-anchor="middle">30</text>
<text x="149.1" y="894.5" text-anchor="end">0.2</text>
<text x="149.1" y="1017.7" text-anchor="end">0.0</text>
<text x="149.1" y="1140.8" text-anchor="end">−0.2</text>
<text x="149.1" y="1264.0" text-anchor="end">−0.4</text>
<text x="477.9" y="1421.7" text-anchor="middle" font-size="30.1">DoS</text>
<text transform="translate(28.8,1056.0) rotate(-90)" text-anchor="middle" font-size="30.1">SHAP value for</text>
<text transform="translate(63.8,1057.5) rotate(-90)" text-anchor="middle" font-size="30.1">DoS</text>
</g>
<rect x="833.1" y="761.1" width="7.2" height="588.30" fill="url(#cbgrad)" fill-opacity="0.66"/>
<g stroke="#000" stroke-width="1.4">
<line x1="840.3" y1="789.0" x2="846.6" y2="789.0"/>
<line x1="840.3" y1="869.4" x2="846.6" y2="869.4"/>
<line x1="840.3" y1="949.8" x2="846.6" y2="949.8"/>
<line x1="840.3" y1="1030.1" x2="846.6" y2="1030.1"/>
<line x1="840.3" y1="1110.5" x2="846.6" y2="1110.5"/>
<line x1="840.3" y1="1190.9" x2="846.6" y2="1190.9"/>
<line x1="840.3" y1="1271.3" x2="846.6" y2="1271.3"/>
</g>
<g font-family='"DejaVu Serif","Liberation Serif",serif' font-size="29.7" fill="#000">
<text x="853.1" y="800.4">500</text>
<text x="853.1" y="880.8">450</text>
<text x="853.1" y="961.2">400</text>
<text x="853.1" y="1041.5">350</text>
<text x="853.1" y="1121.9">300</text>
<text x="853.1" y="1202.3">250</text>
<text x="853.1" y="1282.7">200</text>
<text transform="translate(940.0,1056.0) rotate(-90)" text-anchor="middle">YS</text>
</g>
<text x="478.1" y="1467.4" text-anchor="middle" font-family='"Liberation Sans","DejaVu Sans",sans-serif' font-weight="bold" font-size="35.1" fill="#000">(c)</text>
</g>
<g id="panel-d">
<clipPath id="clip-d"><rect x="1198.05" y="767.05" width="626.05" height="583.25"/></clipPath>
<g clip-path="url(#clip-d)" stroke="#000" stroke-opacity="0.7" stroke-width="0.9" fill-opacity="0.6">
<circle cx="1226.2" cy="873.0" r="5.8" fill="#d71a93"/>
<circle cx="1226.2" cy="870.5" r="5.8" fill="#e21889"/>
<circle cx="1226.2" cy="867.9" r="5.8" fill="#f31672"/>
<circle cx="1226.2" cy="867.9" r="5.8" fill="#f31672"/>
<circle cx="1226.2" cy="864.5" r="5.8" fill="#f91568"/>
<circle cx="1226.2" cy="850.6" r="5.8" fill="#d31a97"/>
<circle cx="1226.2" cy="850.6" r="5.8" fill="#d31a97"/>
<circle cx="1226.2" cy="840.9" r="5.8" fill="#427de4"/>
<circle cx="1226.2" cy="831.3" r="5.8" fill="#427de4"/>
<circle cx="1226.2" cy="831.3" r="5.8" fill="#427de4"/>
<circle cx="1226.2" cy="824.1" r="5.8" fill="#2584e9"/>
<circle cx="1226.2" cy="824.1" r="5.8" fill="#2584e9"/>
<circle cx="1226.2" cy="828.2" r="5.8" fill="#427de4"/>
<circle cx="1226.2" cy="828.2" r="5.8" fill="#427de4"/>
<circle cx="1226.2" cy="821.0" r="5.8" fill="#2584e9"/>
<circle cx="1226.2" cy="821.0" r="5.8" fill="#2584e9"/>
<circle cx="1226.2" cy="796.5" r="5.8" fill="#f31672"/>
<circle cx="1226.2" cy="796.5" r="5.8" fill="#f31672"/>
<circle cx="1226.2" cy="796.5" r="5.8" fill="#f31672"/>
<circle cx="1226.2" cy="799.7" r="5.8" fill="#ed177c"/>
<circle cx="1226.2" cy="799.7" r="5.8" fill="#ed177c"/>
<circle cx="1226.2" cy="802.7" r="5.8" fill="#dd198e"/>
<circle cx="1226.2" cy="802.7" r="5.8" fill="#dd198e"/>
<circle cx="1226.2" cy="805.8" r="5.8" fill="#d31a97"/>
<circle cx="1226.2" cy="805.8" r="5.8" fill="#d31a97"/>
<circle cx="1226.2" cy="808.8" r="5.8" fill="#b030ac"/>
<circle cx="1226.2" cy="808.8" r="5.8" fill="#b030ac"/>
<circle cx="1226.2" cy="817.9" r="5.8" fill="#6175de"/>
<circle cx="1226.2" cy="817.9" r="5.8" fill="#6175de"/>
<circle cx="1226.2" cy="814.9" r="5.8" fill="#8f58c6"/>
<circle cx="1226.2" cy="814.9" r="5.8" fill="#8f58c6"/>
<circle cx="1226.2" cy="811.8" r="5.8" fill="#a23cb1"/>
<circle cx="1226.2" cy="811.8" r="5.8" fill="#a23cb1"/>
<circle cx="1226.2" cy="823.8" r="5.8" fill="#268dee"/>
<circle cx="1226.2" cy="836.3" r="5.8" fill="#c81b9e"/>
<circle cx="1226.2" cy="836.3" r="5.8" fill="#c81b9e"/>
<circle cx="1226.2" cy="846.5" r="5.8" fill="#a23cb1"/>
<circle cx="1226.2" cy="846.5" r="5.8" fill="#a23cb1"/>
<circle cx="1226.2" cy="861.8" r="5.8" fill="#f9145d"/>
<circle cx="1226.2" cy="861.8" r="5.8" fill="#f9145d"/>
<circle cx="1226.2" cy="858.7" r="5.8" fill="#f91568"/>
<circle cx="1226.2" cy="858.7" r="5.8" fill="#f91568"/>
<circle cx="1321.3" cy="861.8" r="5.8" fill="#ed177c"/>
<circle cx="1321.3" cy="861.8" r="5.8" fill="#ed177c"/>
<circle cx="1321.3" cy="861.8" r="5.8" fill="#ed177c"/>
<circle cx="1378.2" cy="884.6" r="5.8" fill="#d91992"/>
<circle cx="1378.2" cy="970.4" r="5.8" fill="#dd198e"/>
<circle cx="1378.2" cy="966.7" r="5.8" fill="#db1990"/>
<circle cx="1416.1" cy="795.2" r="5.8" fill="#df198c"/>
<circle cx="1416.1" cy="794.0" r="5.8" fill="#df198c"/>
<circle cx="1416.1" cy="811.4" r="5.8" fill="#d91992"/>
<circle cx="1416.1" cy="835.8" r="5.8" fill="#df198c"/>
<circle cx="1416.1" cy="835.8" r="5.8" fill="#df198c"/>
<circle cx="1416.1" cy="849.1" r="5.8" fill="#d91992"/>
<circle cx="1416.1" cy="930.0" r="5.8" fill="#d71a93"/>
<circle cx="1416.1" cy="1028.5" r="5.8" fill="#d31a97"/>
<circle cx="1416.1" cy="1021.7" r="5.8" fill="#cb1b9d"/>
<circle cx="1416.1" cy="1021.7" r="5.8" fill="#cb1b9d"/>
<circle cx="1416.1" cy="1035.5" r="5.8" fill="#cb1b9d"/>
<circle cx="1416.1" cy="1035.5" r="5.8" fill="#cb1b9d"/>
<circle cx="1416.1" cy="1112.2" r="5.8" fill="#db1990"/>
<circle cx="1416.1" cy="1117.7" r="5.8" fill="#df198c"/>
<circle cx="1416.1" cy="1120.2" r="5.8" fill="#df198c"/>
<circle cx="1510.8" cy="856.4" r="5.8" fill="#db1990"/>
<circle cx="1510.8" cy="850.9" r="5.8" fill="#e21889"/>
<circle cx="1510.8" cy="850.9" r="5.8" fill="#e21889"/>
<circle cx="1510.8" cy="877.2" r="5.8" fill="#df198c"/>
<circle cx="1510.8" cy="875.3" r="5.8" fill="#df198c"/>
<circle cx="1510.8" cy="875.3" r="5.8" fill="#df198c"/>
<circle cx="1510.8" cy="872.9" r="5.8" fill="#df198c"/>
<circle cx="1510.8" cy="872.9" r="5.8" fill="#df198c"/>
<circle cx="1510.8" cy="999.1" r="5.8" fill="#d71a93"/>
<circle cx="1510.8" cy="991.5" r="5.8" fill="#d71a93"/>
<circle cx="1510.8" cy="1061.7" r="5.8" fill="#d31a97"/>
<circle cx="1510.8" cy="1090.9" r="5.8" fill="#d71a93"/>
<circle cx="1510.8" cy="1113.5" r="5.8" fill="#d71a93"/>
<circle cx="1510.8" cy="1095.1" r="5.8" fill="#d31a97"/>
<circle cx="1510.8" cy="1104.9" r="5.8" fill="#cb1b9d"/>
<circle cx="1510.8" cy="1103.0" r="5.8" fill="#cb1b9d"/>
<circle cx="1510.8" cy="1103.0" r="5.8" fill="#cb1b9d"/>
<circle cx="1567.8" cy="1029.9" r="5.8" fill="#d71a93"/>
<circle cx="1567.8" cy="1139.3" r="5.8" fill="#d71a93"/>
<circle cx="1605.9" cy="1292.6" r="5.8" fill="#db1990"/>
<circle cx="1605.9" cy="1302.9" r="5.8" fill="#e51885"/>
<circle cx="1605.9" cy="1302.9" r="5.8" fill="#e51885"/>
<circle cx="1605.9" cy="1323.5" r="5.8" fill="#e91881"/>
<circle cx="1605.9" cy="1321.7" r="5.8" fill="#e91881"/>
<circle cx="1795.5" cy="1045.7" r="5.8" fill="#db1990"/>
<circle cx="1795.5" cy="1037.0" r="5.8" fill="#e51885"/>
<circle cx="1795.5" cy="1037.0" r="5.8" fill="#e51885"/>
<circle cx="1795.5" cy="1092.3" r="5.8" fill="#d31a97"/>
<circle cx="1795.5" cy="1100.4" r="5.8" fill="#d71a93"/>
<circle cx="1795.5" cy="1297.1" r="5.8" fill="#cf1a9a"/>
<circle cx="1795.5" cy="1292.6" r="5.8" fill="#cb1b9d"/>
</g>
<rect x="1198.05" y="767.05" width="626.05" height="583.25" fill="none" stroke="#000" stroke-width="2.0"/>
<g stroke="#262626" stroke-width="1.5" fill="none">
<line x1="1226.1" y1="1351.2" x2="1226.1" y2="1356.8"/>
<line x1="1321.0" y1="1351.2" x2="1321.0" y2="1356.8"/>
<line x1="1415.9" y1="1351.2" x2="1415.9" y2="1356.8"/>
<line x1="1510.8" y1="1351.2" x2="1510.8" y2="1356.8"/>
<line x1="1605.7" y1="1351.2" x2="1605.7" y2="1356.8"/>
<line x1="1700.6" y1="1351.2" x2="1700.6" y2="1356.8"/>
<line x1="1795.5" y1="1351.2" x2="1795.5" y2="1356.8"/>
<line x1="1197.1" y1="772.1" x2="1191.5" y2="772.1"/>
<line x1="1197.1" y1="840.7" x2="1191.5" y2="840.7"/>
<line x1="1197.1" y1="909.3" x2="1191.5" y2="909.3"/>
<line x1="1197.1" y1="977.8" x2="1191.5" y2="977.8"/>
<line x1="1197.1" y1="1046.4" x2="1191.5" y2="1046.4"/>
<line x1="1197.1" y1="1115.0" x2="1191.5" y2="1115.0"/>
<line x1="1197.1" y1="1183.5" x2="1191.5" y2="1183.5"/>
<line x1="1197.1" y1="1252.1" x2="1191.5" y2="1252.1"/>
<line x1="1197.1" y1="1320.7" x2="1191.5" y2="1320.7"/>
</g>
<g font-family='"DejaVu Serif","Liberation Serif",serif' font-size="29.6" fill="#333">
<text x="1226.1" y="1385.8" text-anchor="middle">0</text>
<text x="1321.0" y="1385.8" text-anchor="middle">5</text>
<text x="1415.9" y="1385.8" text-anchor="middle">10</text>
<text x="1510.8" y="1385.8" text-anchor="middle">15</text>
<text x="1605.7" y="1385.8" text-anchor="middle">20</text>
<text x="1700.6" y="1385.8" text-anchor="middle">25</text>
<text x="1795.5" y="1385.8" text-anchor="middle">30</text>
<text x="1185.2" y="783.3" text-anchor="end">0.2</text>
<text x="1185.2" y="851.9" text-anchor="end">0.0</text>
<text x="1185.2" y="920.4" text-anchor="end">−0.2</text>
<text x="1185.2" y="989.0" text-anchor="end">−0.4</text>
<text x="1185.2" y="1057.6" text-anchor="end">−0.6</text>
<text x="1185.2" y="1126.1" text-anchor="end">−0.8</text>
<text x="1185.2" y="1194.7" text-anchor="end">−1.0</text>
<text x="1185.2" y="1263.3" text-anchor="end">−1.2</text>
<text x="1185.2" y="1331.8" text-anchor="end">−1.4</text>
<text x="1511.1" y="1421.7" text-anchor="middle" font-size="30.0">DoS</text>
<text transform="translate(1066.0,1058.7) rotate(-90)" text-anchor="middle" font-size="30.0">SHAP value for</text>
<text transform="translate(1101.0,1060.2) rotate(-90)" text-anchor="middle" font-size="30.0">DoS</text>
</g>
<rect x="1863.1" y="767.05" width="7.0" height="583.25" fill="url(#cbgrad)" fill-opacity="0.66"/>
<g stroke="#000" stroke-width="1.4">
<line x1="1870.1" y1="824.4" x2="1876.4" y2="824.4"/>
<line x1="1870.1" y1="890.1" x2="1876.4" y2="890.1"/>
<line x1="1870.1" y1="955.8" x2="1876.4" y2="955.8"/>
<line x1="1870.1" y1="1021.6" x2="1876.4" y2="1021.6"/>
<line x1="1870.1" y1="1087.3" x2="1876.4" y2="1087.3"/>
<line x1="1870.1" y1="1153.0" x2="1876.4" y2="1153.0"/>
<line x1="1870.1" y1="1218.7" x2="1876.4" y2="1218.7"/>
<line x1="1870.1" y1="1284.4" x2="1876.4" y2="1284.4"/>
<line x1="1870.1" y1="1350.2" x2="1876.4" y2="1350.2"/>
</g>
<g font-family='"DejaVu Serif","Liberation Serif",serif' font-size="29.8" fill="#000">
<text x="1882.9" y="835.9">550</text>
<text x="1882.9" y="901.6">525</text>
<text x="1882.9" y="967.3">500</text>
<text x="1882.9" y="1033.1">475</text>
<text x="1882.9" y="1098.8">450</text>
<text x="1882.9" y="1164.5">425</text>
<text x="1882.9" y="1230.2">400</text>
<text x="1882.9" y="1295.9">375</text>
<text x="1882.9" y="1361.7">350</text>
<text transform="translate(1969.0,1059.2) rotate(-90)" text-anchor="middle">YS</text>
</g>
<text x="1513.9" y="1467.4" text-anchor="middle" font-family='"Liberation Sans","DejaVu Sans",sans-serif' font-weight="bold" font-size="35.1" fill="#000">(d)</text>
</g>
</g>
</svg></body></html>
